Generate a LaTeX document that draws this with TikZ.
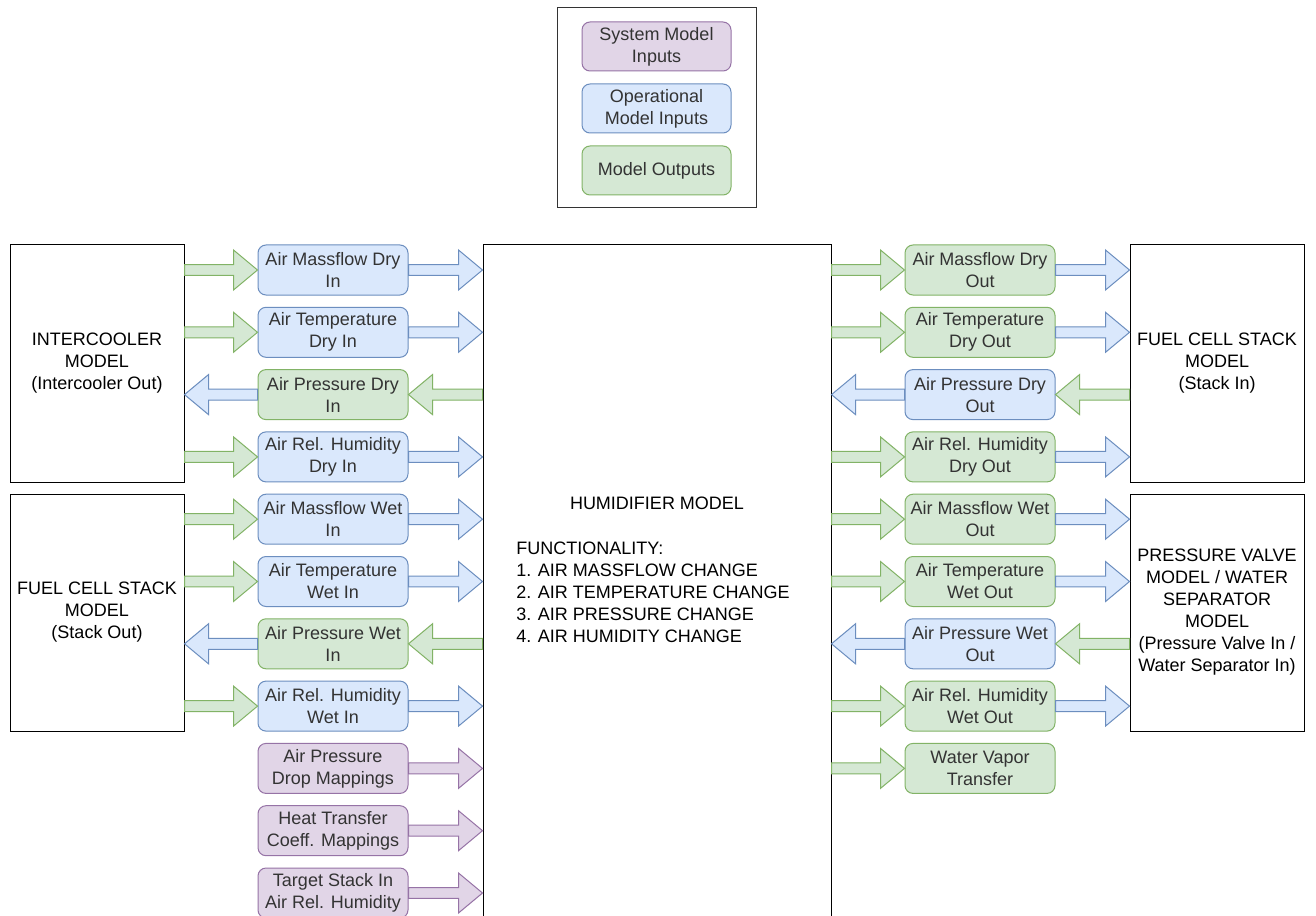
\documentclass[tikz,border=0pt]{standalone}
\usepackage{fontspec}
\setmainfont{Liberation Sans}
\usetikzlibrary{calc}

\definecolor{purF}{HTML}{E1D5E7}\definecolor{purD}{HTML}{9673A6}
\definecolor{bluF}{HTML}{DAE8FC}\definecolor{bluD}{HTML}{6C8EBF}
\definecolor{grnF}{HTML}{D5E8D4}\definecolor{grnD}{HTML}{82B366}
\definecolor{txt}{HTML}{333333}

\tikzset{
  base/.style={font=\fontsize{13.5}{16.5}\selectfont, align=center, inner sep=0pt, text=txt},
  tag/.style={base, rounded corners=6pt, minimum width=112.5pt, minimum height=37.5pt, line width=0.75pt},
  purtag/.style={tag, fill=purF, draw=purD},
  blutag/.style={tag, fill=bluF, draw=bluD},
  grntag/.style={tag, fill=grnF, draw=grnD},
  model/.style={base, text=black, draw=black, line width=0.75pt, minimum width=130.5pt, minimum height=177.75pt},
  parr/.style={fill=purF, draw=purD, line width=0.75pt},
  barr/.style={fill=bluF, draw=bluD, line width=0.75pt},
  garr/.style={fill=grnF, draw=grnD, line width=0.75pt},
}

% block arrow from point #2 to point #3 (horizontal), style #1
\newcommand\blockarrow[3]{%
  \path[#1] let \p1=(#2), \p2=(#3), \p3=($(#3)!18pt!(#2)$) in
    (\x1,\y1+4.1pt) -- (\x3,\y1+4.1pt) -- (\x3,\y1+15pt) -- (\x2,\y1)
    -- (\x3,\y1-15pt) -- (\x3,\y1-4.1pt) -- (\x1,\y1-4.1pt) -- cycle;}

\begin{document}
\begin{tikzpicture}[x=0.75pt,y=-0.75pt]
\useasboundingbox[fill=white] (0,0) rectangle (1316,916);

% legend
\node[draw=black!80, line width=0.75pt, minimum width=149.25pt, minimum height=150pt] (legend) at (656.5,108) {};
\node[purtag, minimum width=111.75pt, minimum height=36.75pt] (lgP) at (656.5,46.5) {System Model\\Inputs};
\node[blutag, minimum width=111.75pt, minimum height=36.75pt] (lgB) at (656.5,108.5) {Operational\\Model Inputs};
\node[grntag, minimum width=111.75pt, minimum height=36.75pt] (lgG) at (656.5,170.5) {Model Outputs};

% surrounding models
\node[model] (ic)  at (97,363.5)   {INTERCOOLER\\MODEL\\(Intercooler Out)};
\node[model] (fcl) at (97,612.5)   {FUEL CELL STACK\\MODEL\\(Stack Out)};
\node[model] (fcr) at (1217,363.5) {FUEL CELL STACK\\MODEL\\(Stack In)};
\node[model] (pv)  at (1217,612.5) {PRESSURE VALVE\\MODEL / WATER\\SEPARATOR\\MODEL\\(Pressure Valve In /\\Water Separator In)};

% humidifier model
\node[draw=black, line width=0.75pt, minimum width=261pt, minimum height=517.5pt] (hum) at (657,590) {};
\node[base, text=black] (humtitle) at (657,503) {HUMIDIFIER MODEL};
\node[base, text=black, align=left, anchor=west] (humlist) at (516,592.5)
  {FUNCTIONALITY:\\1. AIR MASSFLOW CHANGE\\2. AIR TEMPERATURE CHANGE\\3. AIR PRESSURE CHANGE\\4. AIR HUMIDITY CHANGE};

% input side
\node[blutag] (L1)  at (333,270)   {Air Massflow Dry\\In};
\node[blutag] (L2)  at (333,332.3) {Air Temperature\\Dry In};
\node[grntag] (L3)  at (333,394.6) {Air Pressure Dry\\In};
\node[blutag] (L4)  at (333,456.9) {Air Rel. Humidity\\Dry In};
\node[blutag] (L5)  at (333,519.2) {Air Massflow Wet\\In};
\node[blutag] (L6)  at (333,581.5) {Air Temperature\\Wet In};
\node[grntag] (L7)  at (333,643.8) {Air Pressure Wet\\In};
\node[blutag] (L8)  at (333,706.1) {Air Rel. Humidity\\Wet In};
\node[purtag] (L9)  at (333,768.4) {Air Pressure\\Drop Mappings};
\node[purtag] (L10) at (333,830.7) {Heat Transfer\\Coeff. Mappings};
\node[purtag] (L11) at (333,893)   {Target Stack In\\Air Rel. Humidity};

% output side
\node[grntag] (R1) at (980,270)   {Air Massflow Dry\\Out};
\node[grntag] (R2) at (980,332.3) {Air Temperature\\Dry Out};
\node[blutag] (R3) at (980,394.6) {Air Pressure Dry\\Out};
\node[grntag] (R4) at (980,456.9) {Air Rel. Humidity\\Dry Out};
\node[grntag] (R5) at (980,519.2) {Air Massflow Wet\\Out};
\node[grntag] (R6) at (980,581.5) {Air Temperature\\Wet Out};
\node[blutag] (R7) at (980,643.8) {Air Pressure Wet\\Out};
\node[grntag] (R8) at (980,706.1) {Air Rel. Humidity\\Wet Out};
\node[grntag] (R9) at (980,768.4) {Water Vapor\\Transfer};

% input-side arrows
\foreach \nd/\src in {L1/ic,L2/ic,L4/ic,L5/fcl,L6/fcl,L8/fcl}{
  \blockarrow{garr}{\src.east |- \nd.west}{\nd.west}
  \blockarrow{barr}{\nd.east}{hum.west |- \nd.east}
}
\foreach \nd/\src in {L3/ic,L7/fcl}{
  \blockarrow{barr}{\nd.west}{\src.east |- \nd.west}
  \blockarrow{garr}{hum.west |- \nd.east}{\nd.east}
}
\foreach \nd in {L9,L10,L11}{
  \blockarrow{parr}{\nd.east}{hum.west |- \nd.east}
}

% output-side arrows
\foreach \nd/\dst in {R1/fcr,R2/fcr,R4/fcr,R5/pv,R6/pv,R8/pv}{
  \blockarrow{garr}{hum.east |- \nd.west}{\nd.west}
  \blockarrow{barr}{\nd.east}{\dst.west |- \nd.east}
}
\foreach \nd/\dst in {R3/fcr,R7/pv}{
  \blockarrow{barr}{\nd.west}{hum.east |- \nd.west}
  \blockarrow{garr}{\dst.west |- \nd.east}{\nd.east}
}
\blockarrow{garr}{hum.east |- R9.west}{R9.west}
\end{tikzpicture}
\end{document}
